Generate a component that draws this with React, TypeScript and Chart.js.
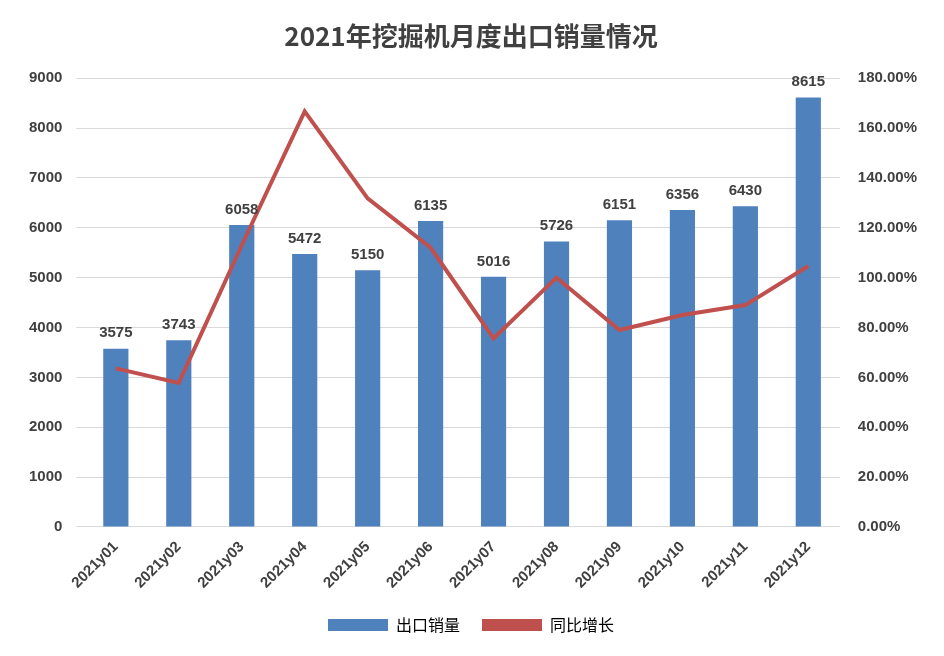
import React, { useEffect, useRef } from "react";
import { Chart, registerables } from "chart.js";
Chart.register(...registerables);

const categories = ["2021y01","2021y02","2021y03","2021y04","2021y05","2021y06","2021y07","2021y08","2021y09","2021y10","2021y11","2021y12"];
const exportSales = [3575,3743,6058,5472,5150,6135,5016,5726,6151,6356,6430,8615];
const yoyGrowth = [63.6,57.8,113,166.7,131.8,112,75.6,100,79,85,89,104.7];

const labelPlugin = {
  id: "barLabels",
  afterDatasetsDraw(chart: any) {
    const ctx = chart.ctx;
    const meta = chart.getDatasetMeta(0);
    ctx.save();
    ctx.font = "bold 15px 'Liberation Sans', Arial, sans-serif";
    ctx.fillStyle = "#404040";
    ctx.textAlign = "center";
    ctx.textBaseline = "bottom";
    meta.data.forEach((bar: any, i: number) => {
      ctx.fillText(String(exportSales[i]), bar.x, bar.y - 8);
    });
    ctx.restore();
  },
};

export default function App() {
  const ref = useRef<HTMLCanvasElement>(null);
  useEffect(() => {
    const chart = new Chart(ref.current!, {
      type: "bar",
      data: {
        labels: categories,
        datasets: [
          { type: "bar", label: "出口销量", data: exportSales, backgroundColor: "#4f81bd", yAxisID: "y", order: 2, categoryPercentage: 0.8, barPercentage: 0.5 } as any,
          { type: "line", label: "同比增长", data: yoyGrowth, borderColor: "#c0504d", borderWidth: 4, pointRadius: 0, yAxisID: "y1", order: 1, tension: 0 } as any,
        ],
      },
      options: {
        animation: false,
        responsive: false,
        layout: { padding: { left: 14, right: 16, top: 16, bottom: 12 } },
        plugins: {
          title: { display: true, text: "2021年挖掘机月度出口销量情况", font: { size: 26, weight: "bold", family: "'Noto Sans CJK SC', sans-serif" }, color: "#404040", padding: { top: 4, bottom: 26 } },
          legend: { position: "bottom", labels: { padding: 22, font: { size: 16, family: "'Noto Sans CJK SC', sans-serif" }, color: "#404040", boxWidth: 60, boxHeight: 12, generateLabels: () => [
            { text: "出口销量", fillStyle: "#4f81bd", strokeStyle: "#4f81bd", lineWidth: 0, datasetIndex: 0 },
            { text: "同比增长", fillStyle: "#c0504d", strokeStyle: "#c0504d", lineWidth: 0, datasetIndex: 1 },
          ] } },
          tooltip: { enabled: false },
        },
        scales: {
          x: { grid: { display: false }, border: { color: "#d9d9d9" }, ticks: { maxRotation: 45, minRotation: 45, color: "#404040", font: { size: 15, weight: "bold", family: "'Liberation Sans', Arial" } } },
          y: { position: "left", min: 0, max: 9000, ticks: { stepSize: 1000, padding: 14, color: "#404040", callback: (v: any) => String(v), font: { size: 15, weight: "bold", family: "'Liberation Sans', Arial" } }, grid: { color: "#d9d9d9" }, border: { display: false } },
          y1: { position: "right", min: 0, max: 180, ticks: { stepSize: 20, padding: 10, color: "#404040", callback: (v: any) => Number(v).toFixed(2) + "%", font: { size: 15, weight: "bold", family: "'Liberation Sans', Arial" } }, grid: { display: false }, border: { display: false } },
        },
      } as any,
      plugins: [labelPlugin],
    });
    return () => chart.destroy();
  }, []);
  return (
    <div style={{ margin: -8, width: 944, height: 656, boxSizing: "border-box", border: "1px solid #bfbfbf", background: "#fff" }}>
      <canvas ref={ref} width={942} height={654} />
    </div>
  );
}
